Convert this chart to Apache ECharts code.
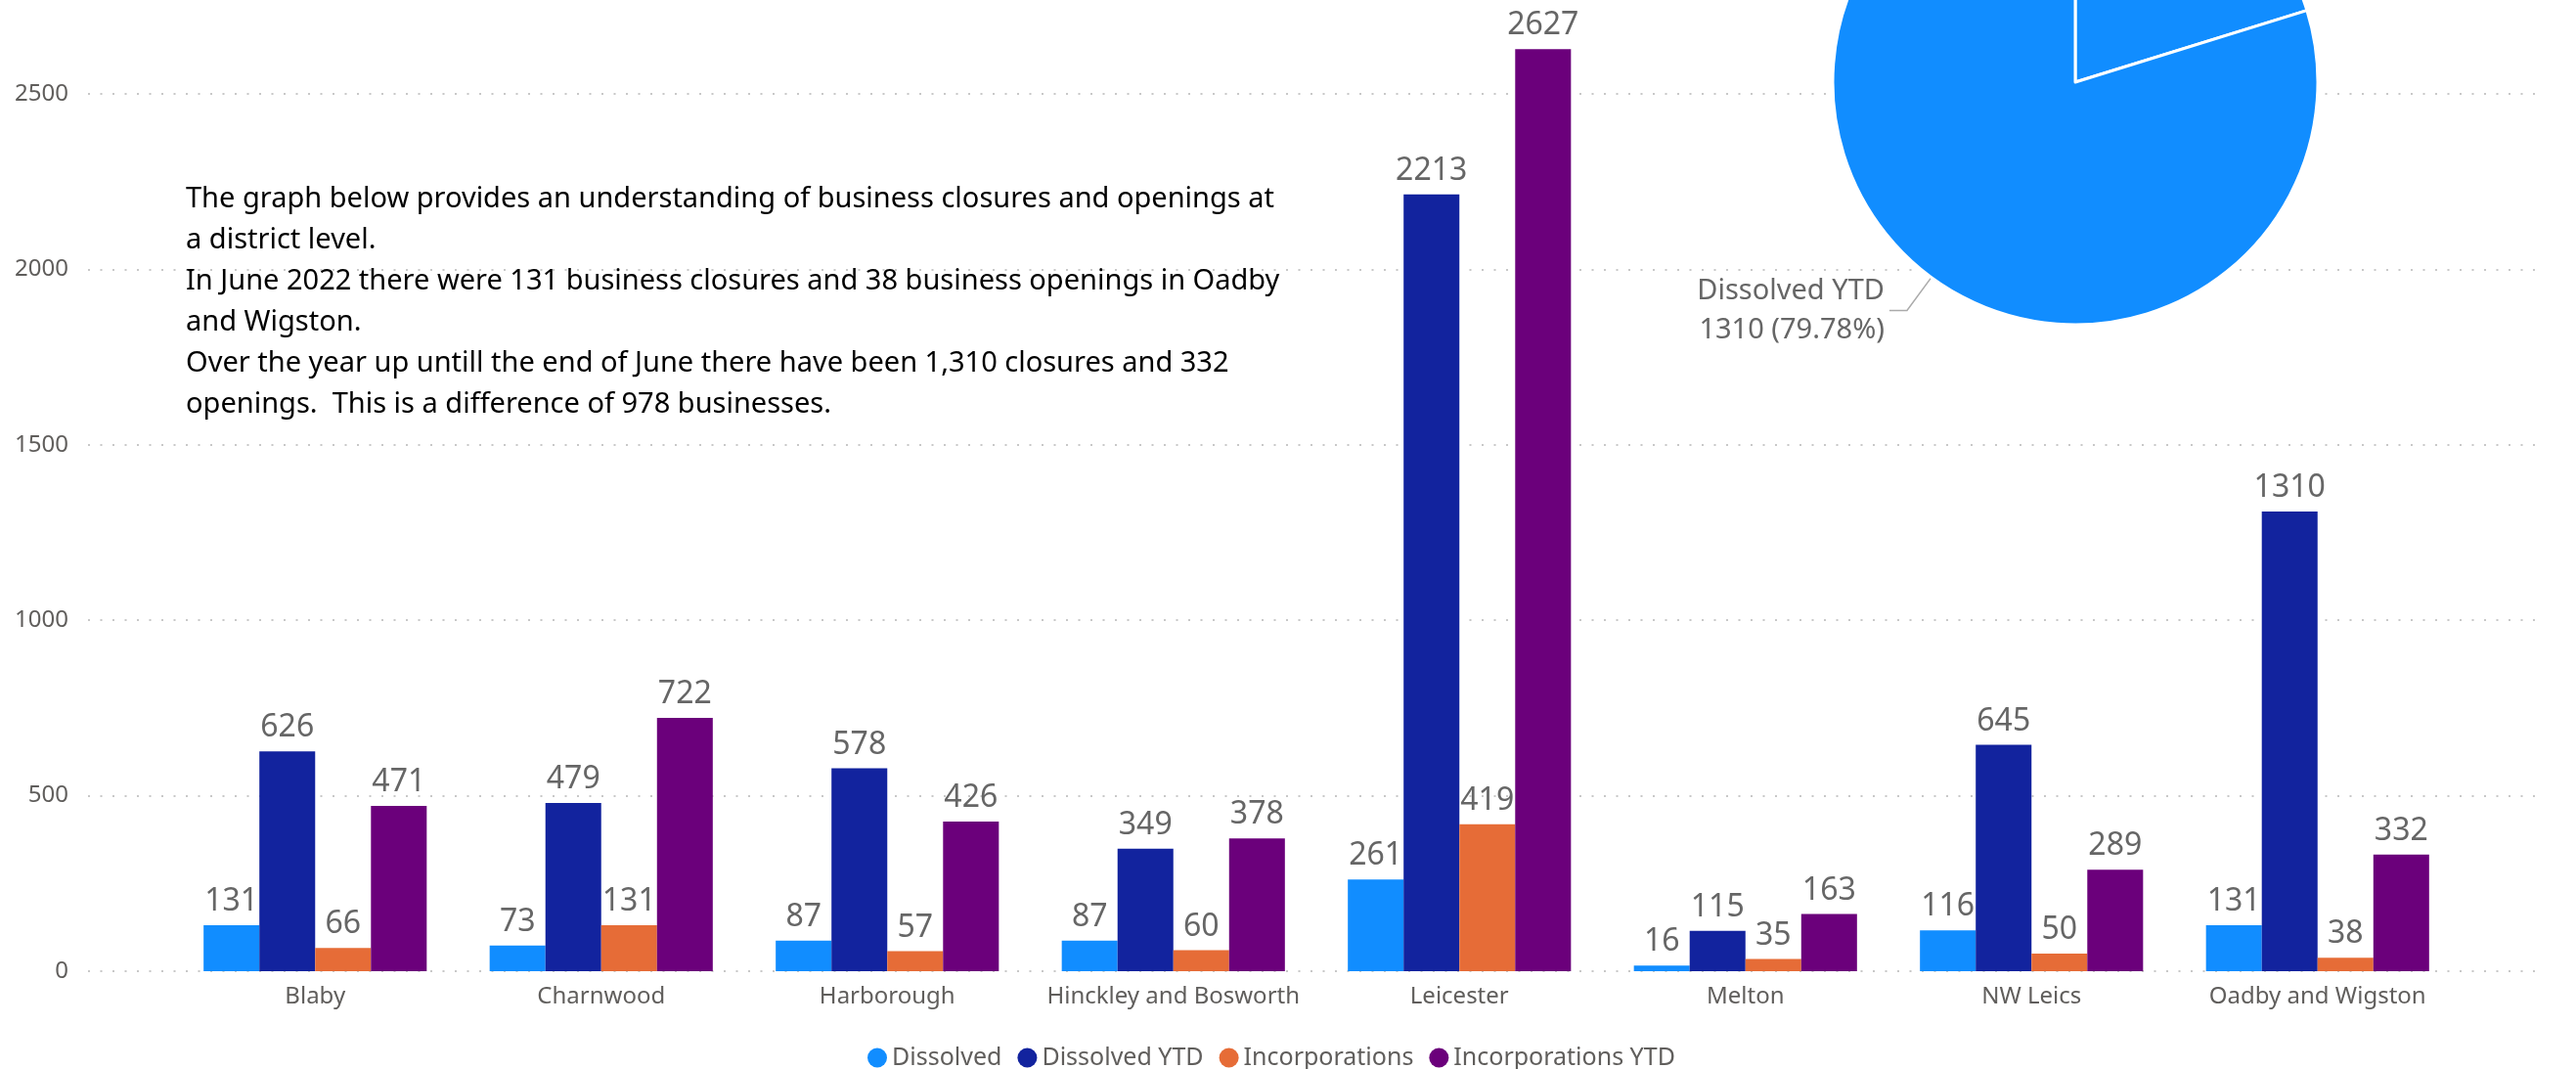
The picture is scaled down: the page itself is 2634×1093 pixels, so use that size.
<!DOCTYPE html>
<html>
<head>
<meta charset="utf-8">
<script src="https://cdn.jsdelivr.net/npm/echarts@6/dist/echarts.min.js"></script>
<style>
    html, body { margin: 0; padding: 0; background: #fff; }
    #container { width: 2634px; height: 1093px; }
</style>
</head>
<body>
<div id="container"></div>
<script>
// districts on the x axis
var districts = ['Blaby', 'Charnwood', 'Harborough', 'Hinckley and Bosworth', 'Leicester', 'Melton', 'NW Leics', 'Oadby and Wigston'];

// monthly + year to date values per district
var dissolved = [131, 73, 87, 87, 261, 16, 116, 131];
var dissolvedYTD = [626, 479, 578, 349, 2213, 115, 645, 1310];
var incorporations = [66, 131, 57, 60, 419, 35, 50, 38];
var incorporationsYTD = [471, 722, 426, 378, 2627, 163, 289, 332];

// pie: Oadby and Wigston year to date
var pieNames = ['Incorporations YTD', 'Dissolved YTD'];
var pieValues = [332, 1310];

// axis runs past the top of the page (top edge ~2767)
var yTicks = {min: 0, max: 2767, interval: 500};

var seriesNames = ['Dissolved', 'Dissolved YTD', 'Incorporations', 'Incorporations YTD'];
var seriesColors = ['#118DFF', '#12239E', '#E66C37', '#6B007B'];

var noteLines = [
    'The graph below provides an understanding of business closures and openings at',
    'a district level.',
    'In June 2022 there were 131 business closures and 38 business openings in Oadby',
    'and Wigston.',
    'Over the year up untill the end of June there have been 1,310 closures and 332',
    'openings.  This is a difference of 978 businesses.'
];

var font = 'Noto Sans';

function runChart() {
    var dom = document.getElementById('container');
    var myChart = echarts.init(dom, null, {renderer: 'canvas'});

    var barData = [dissolved, dissolvedYTD, incorporations, incorporationsYTD];
    var series = [];
    for (var i = 0; i < seriesNames.length; i++) {
        series.push({
            name: seriesNames[i],
            type: 'bar',
            xAxisIndex: 0,
            yAxisIndex: 0,
            barGap: '0%',
            barCategoryGap: '22%',
            itemStyle: {color: seriesColors[i]},
            label: {
                show: true,
                position: 'top',
                distance: 8,
                color: '#666666',
                fontSize: 32,
                fontFamily: font
            },
            data: barData[i]
        });
    }

    var pieData = [];
    for (var k = 0; k < pieNames.length; k++) {
        pieData.push({
            name: pieNames[k],
            value: pieValues[k],
            label: {show: pieNames[k] === 'Dissolved YTD'},
            labelLine: {show: pieNames[k] === 'Dissolved YTD'}
        });
    }

    series.push({
        name: 'YTD',
        type: 'pie',
        center: [2122, 84],
        radius: 248,
        startAngle: 90,
        clockwise: true,
        avoidLabelOverlap: false,
        legendHoverLink: false,
        itemStyle: {color: '#118DFF', borderColor: '#ffffff', borderWidth: 3},
        label: {
            formatter: '{b}\n{c} ({d}%)',
            color: '#666666',
            fontSize: 29,
            lineHeight: 40,
            fontFamily: font
        },
        labelLine: {
            length: 42,
            length2: 18,
            lineStyle: {color: '#aaaaaa', width: 1.5}
        },
        data: pieData,
        z: 3
    });

    var yLabel = function (v) {
        return String(v);
    };

    option = {
        backgroundColor: '#ffffff',
        animation: false,
        title: {
            text: noteLines.join('\n'),
            left: 185,
            top: 178,
            textStyle: {
                fontSize: 29,
                lineHeight: 42,
                fontWeight: 'normal',
                color: '#000000',
                fontFamily: font
            }
        },
        legend: {
            data: seriesNames,
            left: 882,
            top: 1064,
            icon: 'circle',
            itemWidth: 20,
            itemHeight: 20,
            itemGap: 16,
            textStyle: {fontSize: 25, color: '#605E5C', fontFamily: font}
        },
        grid: [
            {left: 176, right: 118, top: 0, bottom: 100},
            // wider grid only for the dotted lines and y labels
            {left: 90, right: 34, top: 0, bottom: 100}
        ],
        xAxis: [
            {
                type: 'category',
                gridIndex: 0,
                data: districts,
                axisLine: {show: false},
                axisTick: {show: false},
                axisLabel: {interval: 0, fontSize: 24, color: '#605E5C', margin: 14, fontFamily: font}
            },
            {type: 'value', gridIndex: 1, show: false}
        ],
        yAxis: [
            {
                type: 'value',
                gridIndex: 0,
                min: yTicks.min,
                max: yTicks.max,
                interval: yTicks.interval,
                show: false,
                splitLine: {show: false}
            },
            {
                type: 'value',
                gridIndex: 1,
                min: yTicks.min,
                max: yTicks.max,
                interval: yTicks.interval,
                axisLine: {show: false},
                axisTick: {show: false},
                axisLabel: {fontSize: 24, color: '#605E5C', margin: 20, fontFamily: font, showMaxLabel: false, formatter: yLabel},
                splitLine: {
                    show: true,
                    showMaxLine: false,
                    lineStyle: {color: '#c8c8c8', width: 2, type: [2, 10.5]}
                }
            }
        ],
        series: series
    };

    if (option && typeof option === 'object') {
        myChart.setOption(option, true);
    }
}

runChart();
</script>
</body>
</html>
